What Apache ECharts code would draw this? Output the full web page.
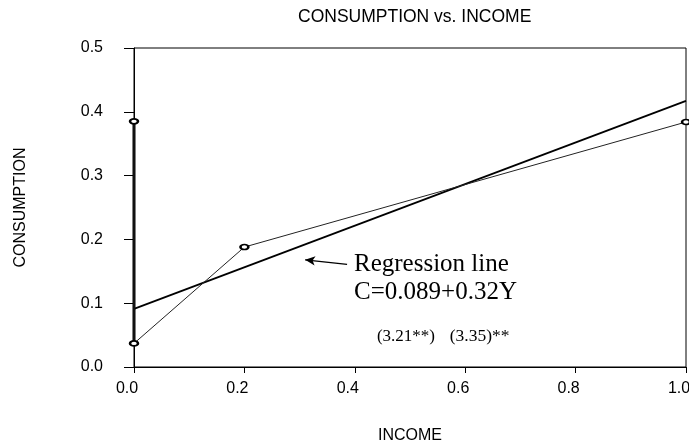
<!DOCTYPE html>
<html>
<head>
<meta charset="utf-8">
<script src="https://cdn.jsdelivr.net/npm/echarts@6/dist/echarts.min.js"></script>
<style>
  html, body { margin: 0; padding: 0; background: #fff; }
  #chart { width: 689px; height: 447px; }
</style>
</head>
<body>
<div id="chart"></div>
<script>
// observed points, in the order they are joined
const income = [0, 0, 0.2, 1.0]
const consumption = [0.385, 0.037, 0.188, 0.384]
// fitted regression line end points
const fitIncome = [0, 1.0]
const fitConsumption = [0.091, 0.417]
const xTicks = [0, 0.2, 0.4, 0.6, 0.8, 1.0]
const yTicks = [0, 0.1, 0.2, 0.3, 0.4, 0.5]

const sans = 'Liberation Sans, Arial, sans-serif'
const serif = 'Liberation Serif, Times New Roman, serif'

const observed = income.map((x, i) => [x, consumption[i]])
const atZero = observed.filter(p => p[0] === 0)
const fitted = fitIncome.map((x, i) => [x, fitConsumption[i]])

const myChart = echarts.init(document.getElementById('chart'))
myChart.setOption({
  animation: false,
  title: {
    text: 'CONSUMPTION vs. INCOME',
    left: 293,
    top: 3,
    textStyle: { fontFamily: sans, fontSize: 17.5, fontWeight: 'normal', color: '#000' }
  },
  grid: {
    left: 134, right: 3, top: 48, bottom: 80,
    outerBoundsMode: 'none',
    containLabel: false,
    show: true, borderColor: '#000', borderWidth: 1
  },
  xAxis: {
    type: 'value',
    min: xTicks[0],
    max: xTicks[xTicks.length - 1],
    interval: 0.2,
    name: 'INCOME',
    nameLocation: 'middle',
    nameGap: 61,
    nameTextStyle: { fontFamily: sans, fontSize: 16, color: '#000' },
    axisLine: { lineStyle: { color: '#000', width: 1 } },
    axisTick: { show: true, length: 6, lineStyle: { color: '#000' } },
    axisLabel: {
      fontFamily: sans, fontSize: 16, color: '#000', margin: 14,
      padding: [0, 14, 0, 0],
      formatter: v => v.toFixed(1)
    },
    splitLine: { show: false }
  },
  yAxis: {
    type: 'value',
    min: yTicks[0],
    max: yTicks[yTicks.length - 1],
    interval: 0.1,
    name: 'CONSUMPTION',
    nameLocation: 'middle',
    nameGap: 105,
    nameTextStyle: { fontFamily: sans, fontSize: 16, color: '#000' },
    axisLine: { show: true, lineStyle: { color: '#000', width: 1 } },
    axisTick: { show: true, length: 10, lineStyle: { color: '#000' } },
    axisLabel: {
      fontFamily: sans, fontSize: 16, color: '#000', margin: 31,
      formatter: v => v.toFixed(1)
    },
    splitLine: { show: false }
  },
  series: [
    {
      name: 'regression',
      type: 'line',
      data: fitted,
      symbol: 'none',
      lineStyle: { color: '#000', width: 1.8 },
      markLine: {
        silent: true,
        symbol: ['none', 'arrow'],
        symbolSize: [7, 10],
        label: { show: false },
        lineStyle: { color: '#000', width: 1.2, type: 'solid' },
        data: [[{ coord: [0.386, 0.161] }, { coord: [0.31, 0.168] }]]
      }
    },
    {
      name: 'zero income',
      type: 'line',
      data: atZero,
      symbol: 'none',
      lineStyle: { color: '#000', width: 3 }
    },
    {
      name: 'observed',
      type: 'line',
      data: observed,
      symbol: 'emptyCircle',
      symbolSize: [8, 5],
      itemStyle: { color: '#000', borderWidth: 1.2 },
      lineStyle: { color: '#222', width: 1 }
    }
  ]
})

// annotation text, anchored in data coordinates (bottom of text box)
const at = (x, y) => myChart.convertToPixel({ gridIndex: 0 }, [x, y])
const p1 = at(0.3986, 0.141)
const p2 = at(0.3986, 0.0975)
const p3 = at(0.440, 0.034)
const p4 = at(0.572, 0.034)
const note = (p, text, size) => ({
  type: 'text', x: p[0], y: p[1], silent: true,
  style: { text, fill: '#000', fontFamily: serif, fontSize: size, verticalAlign: 'bottom' }
})
myChart.setOption({
  graphic: [
    note(p1, 'Regression line', 25),
    note(p2, 'C=0.089+0.32Y', 25),
    note(p3, '(3.21**)', 17),
    note(p4, '(3.35)**', 17.5)
  ]
})
</script>
</body>
</html>
